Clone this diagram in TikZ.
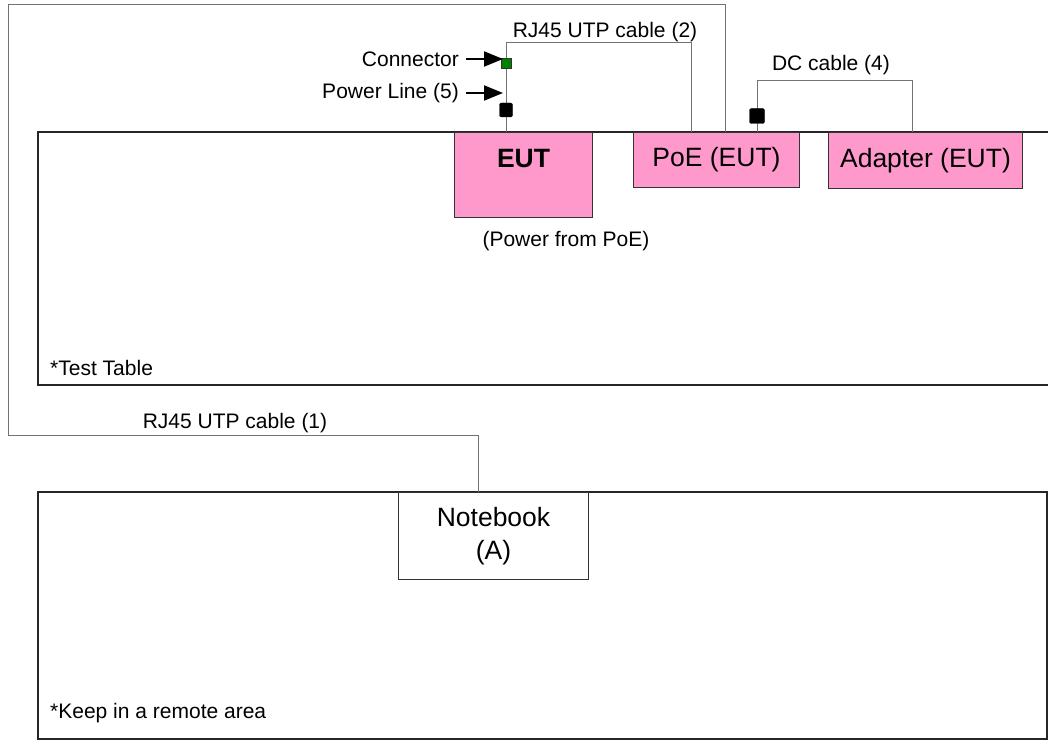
\documentclass[tikz,border=0pt]{standalone}
\usepackage{fontspec}
\setmainfont{Liberation Sans}
\usetikzlibrary{arrows.meta,positioning}

\definecolor{eutpink}{HTML}{FF99CC}
\definecolor{conngreen}{HTML}{008000}
\newcommand{\biglabel}{\fontsize{26.5}{33}\selectfont}
\newcommand{\smalllabel}{\fontsize{21}{25}\selectfont}

\tikzset{
  unitbox/.style={draw=black!80, line width=1pt, fill=eutpink, anchor=north west, inner sep=0pt, font=\biglabel},
  cable/.style={draw=black!55, line width=1pt},
  area/.style={draw=black!85, line width=1.3pt},
  lbl/.style={font=\smalllabel, inner sep=0pt},
  pointer/.style={line width=2pt, -{Triangle[length=19pt,width=15pt]}},
  plug/.style={fill=black, draw=black, rounded corners=2pt, inner sep=0pt},
}

\begin{document}
\begin{tikzpicture}[x=1pt, y=-1pt]
\useasboundingbox (0,0) rectangle (1048,743);

\def\tabletop{132};
\def\tablebot{385};
\def\areatop{492};
\def\areabot{739};

% test table and remote area
\draw[area] (1048,\tabletop) -- (38,\tabletop) -- (38,\tablebot) -- (1048,\tablebot);
\draw[area] (38,\areatop) rectangle (1047,\areabot);
\node[lbl, anchor=west] (tablenote) at (50,368) {*Test Table};
\node[lbl, anchor=west] (areanote) at (50,713) {*Keep in a remote area};

% units
\node[unitbox, minimum width=138pt, minimum height=85pt] (EUT) at (454,\tabletop) {};
\node[font=\biglabel\bfseries, inner sep=0pt, below=17.5pt of EUT.north] (EUTname) {EUT};
\node[lbl] (powernote) at (566,241) {(Power from PoE)};
\node[unitbox, minimum width=166pt, minimum height=55pt] (PoE) at (633,\tabletop) {PoE (EUT)};
\node[unitbox, minimum width=194pt, minimum height=56pt] (Adapter) at (828,\tabletop) {Adapter (EUT)};
\node[unitbox, fill=white, align=center, minimum width=190pt, minimum height=87pt] (Notebook) at (398,\areatop) {Notebook\\(A)};

% ports
\coordinate (eutport) at ([xshift=52pt]EUT.north west);
\coordinate (poelan) at ([xshift=58pt]PoE.north west);
\coordinate (poeup) at ([xshift=92pt]PoE.north west);
\coordinate (poedc) at ([xshift=124pt]PoE.north west);
\coordinate (adport) at ([xshift=84pt]Adapter.north west);
\coordinate (nbport) at ([xshift=80pt]Notebook.north west);

% RJ45 UTP cable (1)
\draw[cable] (nbport) |- (8,435) |- (poeup |- 0,5) -- (poeup);
\node[lbl] (cableone) at (235,423) {RJ45 UTP cable (1)};

% RJ45 UTP cable (2)
\draw[cable] (eutport) |- (poelan |- 0,43) -- (poelan);
\node[lbl] (cabletwo) at (605,32) {RJ45 UTP cable (2)};

% DC cable (4)
\draw[cable] (poedc) |- (adport |- 0,81) -- (adport);
\node[lbl] (cabledc) at (831,65) {DC cable (4)};

% plugs
\node[plug, fill=conngreen, draw=black!80, line width=0.6pt, rounded corners=0pt, minimum size=10pt] (connplug) at (eutport |- 0,63) {};
\node[plug, minimum width=13pt, minimum height=14pt] (powerplug) at (eutport |- 0,110) {};
\node[plug, minimum size=15pt] (dcplug) at (poedc |- 0,116) {};

% pointers
\node[lbl, anchor=east] (connlbl) at (459,59) {Connector};
\node[lbl, anchor=east] (powerlbl) at (459,93) {Power Line (5)};
\coordinate (conntip) at (503,59);
\coordinate (powertip) at (503,93);
\draw[pointer] ([xshift=7pt]connlbl.east) -- (conntip);
\draw[pointer] ([xshift=7pt]powerlbl.east) -- (powertip);

\end{tikzpicture}
\end{document}
